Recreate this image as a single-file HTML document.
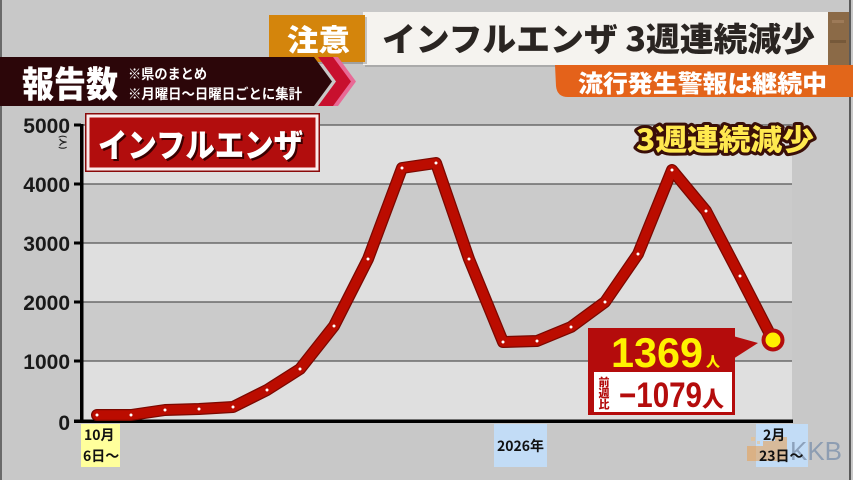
<!DOCTYPE html>
<html><head><meta charset="utf-8"><style>
html,body{margin:0;padding:0;background:#c8c8c8;}
svg{display:block;}
text{font-family:"Liberation Sans","Noto Sans CJK JP",sans-serif;}
.jp{font-family:"Noto Sans CJK JP","Liberation Sans",sans-serif;font-weight:900;}
.num{font-family:"Liberation Sans","Noto Sans CJK JP",sans-serif;font-weight:700;}
</style></head><body>
<svg width="853" height="480" viewBox="0 0 853 480" xmlns="http://www.w3.org/2000/svg">
<rect x="0" y="0" width="853" height="480" fill="#c8c8c8"/>
<rect x="0" y="0" width="2" height="480" fill="#6a6a6a"/>
<rect x="849" y="0" width="2" height="480" fill="#5a5a5a"/>

<!-- chart bands -->
<rect x="83" y="125" width="709" height="59" fill="#dfdfdf"/>
<rect x="83" y="184" width="709" height="59" fill="#cbcbcb"/>
<rect x="83" y="243" width="709" height="59" fill="#dfdfdf"/>
<rect x="83" y="302" width="709" height="59" fill="#cbcbcb"/>
<rect x="83" y="361" width="709" height="60" fill="#dfdfdf"/>
<g stroke="#555" stroke-width="1.3">
<line x1="83" y1="125" x2="792" y2="125"/>
<line x1="83" y1="184" x2="792" y2="184"/>
<line x1="83" y1="243" x2="792" y2="243"/>
<line x1="83" y1="302" x2="792" y2="302"/>
<line x1="83" y1="361" x2="792" y2="361"/>
</g>
<!-- axes -->
<rect x="80" y="124" width="3.5" height="299" fill="#000"/>
<rect x="74" y="419.5" width="719" height="3.5" fill="#000"/>
<g fill="#000">
<rect x="74" y="123.5" width="7" height="3"/>
<rect x="74" y="182.5" width="7" height="3"/>
<rect x="74" y="241.5" width="7" height="3"/>
<rect x="74" y="300.5" width="7" height="3"/>
<rect x="74" y="359.5" width="7" height="3"/>
</g>
<g class="num" font-size="21" fill="#1a1a1a" text-anchor="end">
<text x="70" y="133">5000</text>
<text x="70" y="192">4000</text>
<text x="70" y="251">3000</text>
<text x="70" y="310">2000</text>
<text x="70" y="369">1000</text>
<text x="70" y="430">0</text>
</g>
<text class="jp" font-size="8" fill="#222" transform="translate(60,135) rotate(90)">(人)</text>

<!-- header: title box -->
<rect x="365" y="14" width="465" height="53" fill="#000" opacity="0.15"/>
<rect x="363" y="12" width="465" height="53" fill="#f5f3ef"/>
<rect x="828" y="12" width="21" height="53" fill="#8b6a47"/>
<rect x="832" y="20" width="12" height="3" fill="#a58260" opacity="0.7"/>
<rect x="830" y="40" width="16" height="3" fill="#6e5235" opacity="0.7"/>
<text class="jp" x="382" y="51" font-size="33" fill="#2a2522" textLength="433" lengthAdjust="spacingAndGlyphs">インフルエンザ 3週連続減少</text>
<!-- 注意 -->
<rect x="272" y="17" width="95" height="47" fill="#000" opacity="0.2"/>
<rect x="269" y="15" width="96" height="47" fill="#d4850c"/>
<text class="jp" x="287" y="51" font-size="30" fill="#fff" textLength="63" lengthAdjust="spacingAndGlyphs">注意</text>
<!-- orange sub banner -->
<defs>
<linearGradient id="og" x1="0" y1="0" x2="1" y2="0">
<stop offset="0" stop-color="#e4621a"/><stop offset="1" stop-color="#e2661a"/>
</linearGradient>
</defs>
<path d="M555,65 L853,65 L853,97 L568,97 Q557,97 556,86 Z" fill="url(#og)"/>
<text class="jp" x="578" y="92" font-size="24" fill="#fff" textLength="249" lengthAdjust="spacingAndGlyphs">流行発生警報は継続中</text>

<!-- dark banner -->
<polygon points="322,57 338,57 356,81.5 338,106 322,106 340,81.5" fill="#e86a96"/>
<polygon points="318,57 333,57 351,81.5 333,106 318,106 336,81.5" fill="#c8102e"/>
<polygon points="0,57 314,57 332,81.5 314,106 0,106" fill="#2c0609"/>
<text class="jp" x="22" y="97" font-size="36" fill="#fff" textLength="96" lengthAdjust="spacingAndGlyphs">報告数</text>
<text class="jp" x="128" y="79" font-size="14" fill="#fff" textLength="79" lengthAdjust="spacingAndGlyphs" style="font-weight:700">※県のまとめ</text>
<text class="jp" x="128" y="99" font-size="14" fill="#fff" textLength="174" lengthAdjust="spacingAndGlyphs" style="font-weight:700">※月曜日～日曜日ごとに集計</text>

<!-- インフルエンザ box -->
<rect x="85" y="113" width="235" height="59" fill="#8a0a0a"/>
<rect x="86.5" y="114.5" width="232" height="56" fill="#fbeaea"/>
<rect x="89.5" y="117.5" width="226" height="50" fill="#b20d0d"/>
<text class="jp" x="100" y="159" font-size="33" fill="#3a0000" textLength="205" lengthAdjust="spacingAndGlyphs">インフルエンザ</text>
<text class="jp" x="98" y="157" font-size="33" fill="#fff" textLength="205" lengthAdjust="spacingAndGlyphs">インフルエンザ</text>

<!-- 3週連続減少 -->
<text class="jp" x="636" y="150" font-size="29" fill="#ffe94f" stroke="#3a0f08" stroke-width="6" stroke-linejoin="round" paint-order="stroke" textLength="178" lengthAdjust="spacingAndGlyphs">3週連続減少</text>

<!-- series -->
<polyline fill="none" stroke="#7a0800" stroke-width="12" stroke-linejoin="round" stroke-linecap="round"
points="97,415 131,415 165,410 199,409 233,407 267,390 300,369 334,326 368,259 402,168 436,163 469,259 503,342 537,341 571,327 605,302 638,254 672,170 706,211 740,276 773,340"/>
<polyline fill="none" stroke="#bb0c00" stroke-width="9.5" stroke-linejoin="round" stroke-linecap="round"
points="97,415 131,415 165,410 199,409 233,407 267,390 300,369 334,326 368,259 402,168 436,163 469,259 503,342 537,341 571,327 605,302 638,254 672,170 706,211 740,276 773,340"/>
<g fill="#fff">
<circle cx="97" cy="415" r="1.5"/><circle cx="131" cy="415" r="1.5"/><circle cx="165" cy="410" r="1.5"/>
<circle cx="199" cy="409" r="1.5"/><circle cx="233" cy="407" r="1.5"/><circle cx="267" cy="390" r="1.5"/>
<circle cx="300" cy="369" r="1.5"/><circle cx="334" cy="326" r="1.5"/><circle cx="368" cy="259" r="1.5"/>
<circle cx="402" cy="168" r="1.5"/><circle cx="436" cy="163" r="1.5"/><circle cx="469" cy="259" r="1.5"/>
<circle cx="503" cy="342" r="1.5"/><circle cx="537" cy="341" r="1.5"/><circle cx="571" cy="327" r="1.5"/>
<circle cx="605" cy="302" r="1.5"/><circle cx="638" cy="254" r="1.5"/><circle cx="672" cy="170" r="1.5"/>
<circle cx="706" cy="211" r="1.5"/><circle cx="740" cy="276" r="1.5"/>
</g>
<circle cx="773" cy="340" r="9.5" fill="#ffee00" stroke="#b40c0c" stroke-width="4"/>

<!-- annotation -->
<polygon points="733,336 758,343 733,359" fill="#b40c0c"/>
<rect x="588" y="328" width="147" height="87" fill="#b40c0c"/>
<rect x="594" y="372" width="138" height="40" fill="#fff"/>
<text class="num" x="611" y="367" font-size="42" fill="#fff200" textLength="92" lengthAdjust="spacingAndGlyphs">1369</text>
<text class="jp" x="706" y="367" font-size="14" fill="#fff200">人</text>
<g class="jp" font-size="11" fill="#b40c0c" text-anchor="middle">
<text x="604" y="386">前</text>
<text x="604" y="397">週</text>
<text x="604" y="408">比</text>
</g>
<text class="num" x="619" y="407" font-size="35" fill="#b40c0c" textLength="83" lengthAdjust="spacingAndGlyphs">−1079</text>
<text class="jp" x="702" y="407" font-size="22" fill="#b40c0c">人</text>

<!-- x labels -->
<rect x="81" y="424" width="39" height="43" fill="#ffff9c"/>
<text class="jp" x="84" y="440" font-size="14" fill="#111" style="font-weight:700">10月</text>
<text class="jp" x="83" y="461" font-size="14" fill="#111" style="font-weight:700">6日～</text>
<rect x="494" y="424" width="53" height="43" fill="#c2dcf6"/>
<text class="jp" x="497" y="451" font-size="14" fill="#111" style="font-weight:700" textLength="47" lengthAdjust="spacingAndGlyphs">2026年</text>
<rect x="756" y="424" width="52" height="43" fill="#c2dcf6"/>
<!-- KKB watermark -->
<g opacity="0.55">
<rect x="747" y="446" width="16" height="15" fill="#e9a050"/>
<rect x="763" y="441" width="12" height="20" fill="#e9a050"/>
<rect x="775" y="437" width="12" height="24" fill="#e9a050"/>
<rect x="751" y="437" width="4" height="4" fill="#f0c080"/>
<rect x="757" y="441" width="3" height="3" fill="#f0c080"/>
</g>
<text x="790" y="460" font-size="26" fill="#7f93ad" opacity="0.8" font-family="Liberation Sans">KKB</text>
<text class="jp" x="763" y="440" font-size="14" fill="#111" style="font-weight:700">2月</text>
<text class="jp" x="759" y="461" font-size="14" fill="#111" style="font-weight:700">23日～</text>
</svg>
</body></html>
